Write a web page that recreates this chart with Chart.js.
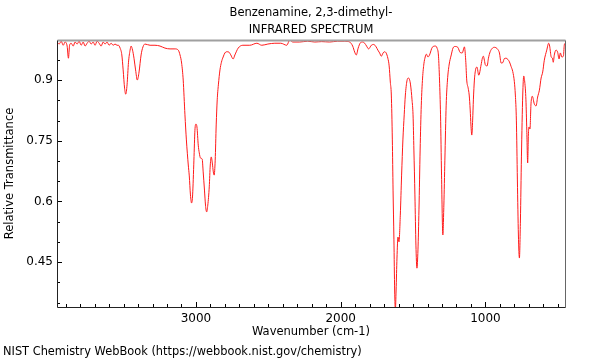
<!DOCTYPE html>
<html>
<head>
<meta charset="utf-8">
<script src="https://cdn.jsdelivr.net/npm/chart.js@4"></script>
<style>
  html, body { margin: 0; padding: 0; background: #fff; }
  #wrap { width: 600px; height: 360px; position: relative; }
</style>
</head>
<body>
<div id="wrap"><canvas id="c" width="600" height="360"></canvas></div>
<script>
const chartTitle = ['Benzenamine, 2,3-dimethyl-', 'INFRARED SPECTRUM'];
const xAxisTitle = 'Wavenumber (cm-1)';
const yAxisTitle = 'Relative Transmittance';
const footerText = 'NIST Chemistry WebBook (https://webbook.nist.gov/chemistry)';

const xTickLabels = [3000, 2000, 1000];
const yTickLabels = [0.45, 0.6, 0.75, 0.9];

const wavenumbers = [
  3959, 3945, 3931, 3917, 3904, 3890, 3881, 3873, 3862, 3848, 3835, 3821, 3807, 3793, 3779, 3766,
  3752, 3738, 3724, 3710, 3697, 3683, 3669, 3655, 3641, 3628, 3614, 3600, 3586, 3572, 3559, 3545,
  3536, 3524, 3512, 3503, 3493, 3485, 3476, 3466, 3455, 3448, 3438, 3428, 3417, 3405, 3393, 3379,
  3366, 3352, 3317, 3283, 3248, 3214, 3179, 3145, 3122, 3110, 3099, 3088, 3076, 3066, 3053, 3046,
  3038, 3030, 3023, 3014, 3007, 3000, 2993, 2984, 2977, 2968, 2957, 2950, 2941, 2934, 2926, 2918,
  2908, 2901, 2894, 2887, 2880, 2874, 2867, 2860, 2853, 2845, 2834, 2824, 2812, 2800, 2788, 2772,
  2759, 2743, 2731, 2708, 2676, 2628, 2579, 2545, 2503, 2455, 2414, 2372, 2352, 2331, 2283, 2228,
  2179, 2131, 2076, 2021, 1972, 1938, 1917, 1903, 1892, 1879, 1864, 1848, 1834, 1821, 1807, 1788,
  1772, 1755, 1743, 1731, 1719, 1707, 1696, 1686, 1674, 1665, 1657, 1650, 1643, 1638, 1632, 1627,
  1622, 1617, 1611, 1604, 1597, 1588, 1579, 1570, 1561, 1553, 1542, 1533, 1525, 1517, 1507, 1500,
  1494, 1487, 1480, 1473, 1466, 1459, 1451, 1443, 1434, 1425, 1416, 1408, 1397, 1386, 1367, 1346,
  1334, 1324, 1317, 1310, 1303, 1294, 1287, 1280, 1271, 1262, 1251, 1236, 1224, 1210, 1191, 1174,
  1160, 1145, 1136, 1129, 1119, 1112, 1105, 1100, 1094, 1088, 1083, 1076, 1067, 1058, 1046, 1030,
  1021, 1014, 1007, 1000, 988, 979, 967, 951, 938, 915, 903, 891, 880, 869, 857, 845,
  834, 822, 811, 800, 793, 786, 779, 772, 765, 758, 751, 742, 735, 728, 720, 714,
  708, 703, 699, 692, 685, 676, 662, 650, 639, 627, 615, 604, 593, 576, 563, 556,
  546, 537, 531, 524, 512, 501, 491, 482, 472, 461, 455, 450
];

const transmittance = [
  0.994, 0.989, 0.996, 0.986, 0.994, 0.984, 0.954, 0.986, 0.991, 0.984, 0.994, 0.989, 0.996, 0.986, 0.994, 0.984,
  0.991, 0.996, 0.989, 0.994, 0.986, 0.996, 0.991, 0.984, 0.994, 0.989, 0.994, 0.986, 0.991, 0.986, 0.989, 0.986,
  0.986, 0.979, 0.962, 0.925, 0.880, 0.865, 0.888, 0.944, 0.974, 0.984, 0.974, 0.954, 0.925, 0.900, 0.920, 0.962,
  0.982, 0.989, 0.986, 0.986, 0.984, 0.979, 0.977, 0.977, 0.974, 0.962, 0.942, 0.900, 0.814, 0.752, 0.690, 0.663,
  0.616, 0.596, 0.616, 0.702, 0.776, 0.791, 0.784, 0.739, 0.720, 0.707, 0.705, 0.673, 0.628, 0.591, 0.574, 0.591,
  0.636, 0.690, 0.710, 0.695, 0.673, 0.665, 0.702, 0.789, 0.851, 0.888, 0.925, 0.944, 0.957, 0.967, 0.970, 0.969,
  0.962, 0.952, 0.962, 0.979, 0.986, 0.986, 0.991, 0.986, 0.989, 0.991, 0.991, 0.986, 0.999, 0.994, 0.994, 0.996,
  0.994, 0.995, 0.994, 0.996, 0.996, 0.994, 0.984, 0.969, 0.962, 0.979, 0.992, 0.994, 0.991, 0.984, 0.977, 0.986,
  0.988, 0.982, 0.974, 0.967, 0.959, 0.967, 0.970, 0.967, 0.954, 0.935, 0.895, 0.863, 0.752, 0.628, 0.505, 0.381,
  0.332, 0.381, 0.460, 0.512, 0.500, 0.566, 0.665, 0.752, 0.814, 0.863, 0.898, 0.905, 0.902, 0.888, 0.851, 0.814,
  0.727, 0.616, 0.492, 0.435, 0.480, 0.579, 0.727, 0.838, 0.905, 0.940, 0.957, 0.964, 0.957, 0.962, 0.981, 0.984,
  0.979, 0.959, 0.900, 0.814, 0.665, 0.517, 0.591, 0.702, 0.838, 0.900, 0.937, 0.962, 0.979, 0.983, 0.981, 0.968,
  0.967, 0.982, 0.949, 0.900, 0.880, 0.863, 0.826, 0.789, 0.764, 0.801, 0.851, 0.900, 0.927, 0.932, 0.912, 0.937,
  0.954, 0.959, 0.949, 0.937, 0.935, 0.954, 0.970, 0.979, 0.981, 0.976, 0.967, 0.942, 0.943, 0.953, 0.954, 0.951,
  0.945, 0.933, 0.921, 0.896, 0.863, 0.801, 0.653, 0.517, 0.460, 0.554, 0.710, 0.863, 0.910, 0.895, 0.851, 0.776,
  0.695, 0.764, 0.784, 0.779, 0.841, 0.860, 0.841, 0.836, 0.858, 0.875, 0.905, 0.920, 0.949, 0.974, 0.991, 0.984,
  0.958, 0.954, 0.944, 0.962, 0.974, 0.969, 0.952, 0.967, 0.957, 0.959, 0.986, 0.991
];

const FONT = "'DejaVu Sans', sans-serif";
const points = wavenumbers.map((w, i) => ({ x: w, y: transmittance[i] }));

const decor = {
  id: 'decor',
  afterDraw(chart) {
    const ctx = chart.ctx;
    const a = chart.chartArea;
    const xs = chart.scales.x, ys = chart.scales.y;
    ctx.save();
    ctx.strokeStyle = '#000';
    ctx.lineWidth = 1;
    xs.ticks.forEach(t => {
      const px = Math.round(xs.getPixelForValue(t.value)) + 0.5;
      const len = xTickLabels.includes(t.value) ? 5 : 3;
      ctx.beginPath();
      ctx.moveTo(px, a.bottom);
      ctx.lineTo(px, a.bottom - len);
      ctx.stroke();
    });
    ys.ticks.forEach(t => {
      const py = Math.round(ys.getPixelForValue(t.value)) + 0.5;
      const major = yTickLabels.some(v => Math.abs(v - t.value) < 1e-6);
      const len = major ? 5 : 3;
      ctx.beginPath();
      ctx.moveTo(a.left, py);
      ctx.lineTo(a.left + len, py);
      ctx.stroke();
    });
    const L = Math.round(a.left) + 0.5, R = Math.round(a.right) + 0.5;
    const T = Math.round(a.top) + 0.5, B = Math.round(a.bottom) + 0.5;
    ctx.strokeStyle = '#a0a0a0';
    ctx.lineWidth = 2;
    ctx.beginPath(); ctx.moveTo(L, T); ctx.lineTo(R, T); ctx.stroke();
    ctx.lineWidth = 1;
    ctx.strokeStyle = '#666';
    ctx.beginPath(); ctx.moveTo(R, T); ctx.lineTo(R, B); ctx.stroke();
    ctx.strokeStyle = '#222';
    ctx.beginPath(); ctx.moveTo(L, T); ctx.lineTo(L, B); ctx.lineTo(R, B); ctx.stroke();
    ctx.fillStyle = '#000';
    ctx.font = '11.5px ' + FONT;
    ctx.textAlign = 'center';
    ctx.textBaseline = 'middle';
    const cx = (a.left + a.right) / 2;
    ctx.fillText(chartTitle[0], cx, 13);
    ctx.fillText(chartTitle[1], cx, 30);
    ctx.fillText(xAxisTitle, cx, 332);
    ctx.save();
    ctx.translate(10, (a.top + a.bottom) / 2);
    ctx.rotate(-Math.PI / 2);
    ctx.fillText(yAxisTitle, 0, 0);
    ctx.restore();
    ctx.textAlign = 'left';
    ctx.font = '11.4px ' + FONT;
    ctx.fillText(footerText, 3, 352);
    ctx.restore();
  }
};

new Chart(document.getElementById('c'), {
  type: 'line',
  data: {
    datasets: [{
      data: points,
      borderColor: '#ff1a1a',
      borderWidth: 1,
      pointRadius: 0,
      fill: false,
      cubicInterpolationMode: 'monotone'
    }]
  },
  options: {
    responsive: false,
    animation: false,
    devicePixelRatio: 1,
    layout: { padding: { top: 40, right: 35, left: 0, bottom: 0 } },
    plugins: { legend: { display: false }, title: { display: false }, tooltip: { enabled: false } },
    scales: {
      x: {
        type: 'linear',
        reverse: true,
        min: 450,
        max: 3960,
        afterBuildTicks(scale) {
          const t = [];
          for (let v = 500; v <= 3900; v += 100) t.push({ value: v });
          scale.ticks = t;
        },
        afterFit(scale) { scale.height = 53; },
        grid: { display: false, drawTicks: false },
        border: { display: false },
        ticks: {
          autoSkip: false,
          maxRotation: 0,
          padding: 5,
          color: '#000',
          font: { family: FONT, size: 12 },
          callback: v => xTickLabels.includes(v) ? String(v) : ''
        }
      },
      y: {
        type: 'linear',
        min: 0.339,
        max: 0.999,
        afterBuildTicks(scale) {
          const t = [];
          for (let k = 7; k <= 19; k++) t.push({ value: Math.round(k * 5) / 100 });
          scale.ticks = t;
        },
        afterFit(scale) { scale.width = 57; },
        grid: { display: false, drawTicks: false },
        border: { display: false },
        ticks: {
          autoSkip: false,
          padding: 4,
          color: '#000',
          font: { family: FONT, size: 12 },
          callback: v => yTickLabels.some(l => Math.abs(l - v) < 1e-6) ? String(v) : ''
        }
      }
    }
  },
  plugins: [decor]
});
</script>
</body>
</html>
